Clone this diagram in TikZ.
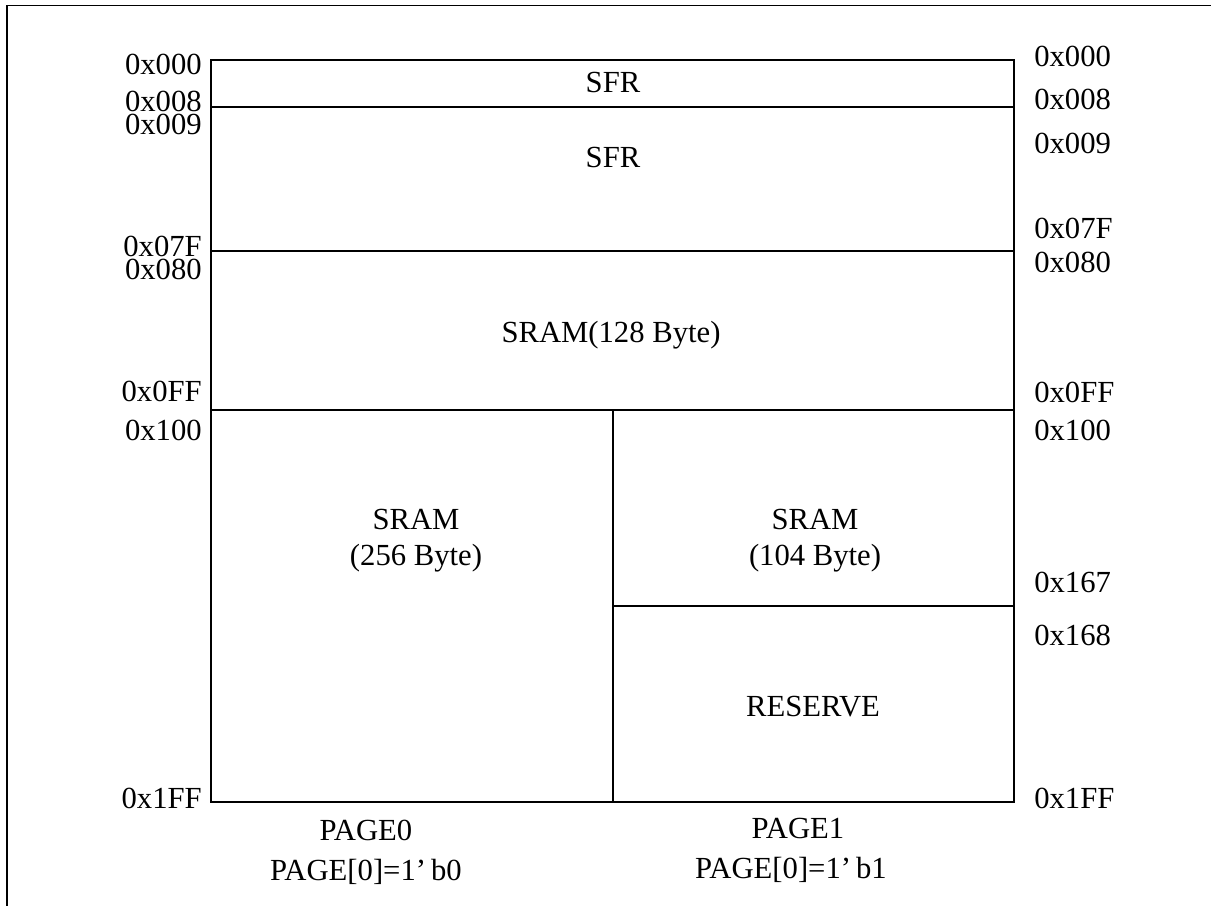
\documentclass[tikz,border=0pt]{standalone}
\usepackage{fontspec}
\setmainfont{Liberation Serif}
\begin{document}
\begin{tikzpicture}[x=0.75pt,y=-0.75pt,
  every node/.style={font=\fontsize{23}{27}\selectfont, inner sep=0pt},
  llab/.style={anchor=base east},
  rlab/.style={anchor=base west},
  ctext/.style={anchor=base},
  boxline/.style={line width=1.1pt},
  frameline/.style={line width=1.3pt}]
\useasboundingbox (0,0) rectangle (1211,906);
% outer frame (clipped at right and bottom)
\draw[frameline] (7,5.5) rectangle (1260,960);
% memory map
\draw[boxline] (211,60) rectangle (1014,802);
\draw[boxline] (211,107) -- (1014,107);
\draw[boxline] (211,251) -- (1014,251);
\draw[boxline] (211,410) -- (1014,410);
\draw[boxline] (613,410) -- (613,802);
\draw[boxline] (613,606) -- (1014,606);
% block texts
\node[ctext] (sfr1) at (613,93) {SFR};
\node[ctext] (sfr2) at (613,167) {SFR};
\node[ctext] (sram128) at (611,342) {SRAM(128 Byte)};
\node[ctext] (sram256a) at (416,529) {SRAM};
\node[ctext] (sram256b) at (416,565) {(256 Byte)};
\node[ctext] (sram104a) at (815,529) {SRAM};
\node[ctext] (sram104b) at (815,565) {(104 Byte)};
\node[ctext] (reserve) at (813,716) {RESERVE};
% page captions
\node[ctext] (page0) at (366,840) {PAGE0};
\node[ctext] (page0b) at (366,880) {PAGE[0]=1’\,b0};
\node[ctext] (page1) at (798,838) {PAGE1};
\node[ctext] (page1b) at (791,878) {PAGE[0]=1’\,b1};
% left addresses
\node[llab] (l000) at (202,75) {0x000};
\node[llab] (l008) at (202,112) {0x008};
\node[llab] (l009) at (202,134) {0x009};
\node[llab] (l07f) at (202,256) {0x07F};
\node[llab] (l080) at (202,279) {0x080};
\node[llab] (l0ff) at (202,401) {0x0FF};
\node[llab] (l100) at (202,440) {0x100};
\node[llab] (l1ff) at (202,808) {0x1FF};
% right addresses
\node[rlab] (r000) at (1034,67) {0x000};
\node[rlab] (r008) at (1034,110) {0x008};
\node[rlab] (r009) at (1034,153) {0x009};
\node[rlab] (r07f) at (1034,238) {0x07F};
\node[rlab] (r080) at (1034,272) {0x080};
\node[rlab] (r0ff) at (1034,402) {0x0FF};
\node[rlab] (r100) at (1034,440) {0x100};
\node[rlab] (r167) at (1034,592) {0x167};
\node[rlab] (r168) at (1034,645) {0x168};
\node[rlab] (r1ff) at (1034,808) {0x1FF};
\end{tikzpicture}
\end{document}
